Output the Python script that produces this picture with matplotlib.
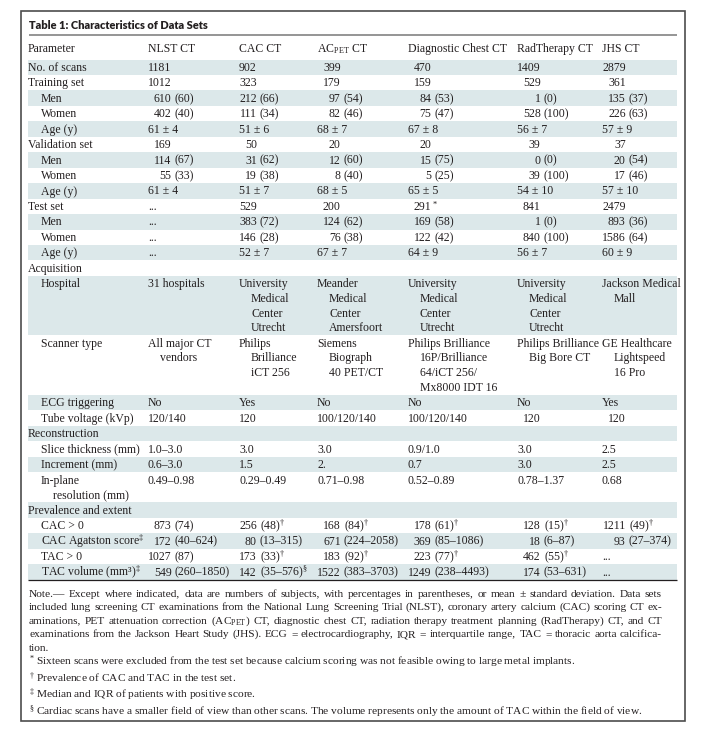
import re
import matplotlib
matplotlib.use("Agg")
import matplotlib.pyplot as plt
from matplotlib.patches import Rectangle

plt.rcParams['font.family'] = ['Liberation Serif', 'DejaVu Serif']
plt.rcParams['mathtext.fontset'] = 'custom'
plt.rcParams['mathtext.rm'] = 'Liberation Serif'
plt.rcParams['mathtext.it'] = 'Liberation Serif:italic'
plt.rcParams['mathtext.bf'] = 'Liberation Serif:bold'

DAG = "$^{\\dagger}$"
DDAG = "$^{\\ddagger}$"
SEC = "$^{\\S}$"
AST = "$^{*}$"

# ---------------- data ----------------
title = "Table 1: Characteristics of Data Sets"
columns = ["Parameter", "NLST CT", "CAC CT", "AC$_{\\mathrm{PET}}$ CT",
           "Diagnostic Chest CT", "RadTherapy CT", "JHS CT"]

row_labels = ["No. of scans", "Training set", "Men", "Women", "Age (y)",
              "Validation set", "Men", "Women", "Age (y)",
              "Test set", "Men", "Women", "Age (y)",
              "Acquisition", "Hospital", "Scanner type", "ECG triggering",
              "Tube voltage (kVp)", "Reconstruction", "Slice thickness (mm)",
              "Increment (mm)", "In-plane\nresolution (mm)",
              "Prevalence and extent", "CAC > 0", "CAC Agatston score" + DDAG,
              "TAC > 0", "TAC volume (mm³)" + DDAG]
row_is_sub = [False, False, True, True, True,
              False, True, True, True,
              False, True, True, True,
              False, True, True, True,
              True, False, True,
              True, True,
              False, True, True,
              True, True]

nlst = ["1181", "1012", "610 (60)", "402 (40)", "61 ± 4",
        "169", "114 (67)", "55 (33)", "61 ± 4",
        "...", "...", "...", "...",
        "", "31 hospitals", "All major CT\nvendors", "No",
        "120/140", "", "1.0–3.0", "0.6–3.0", "0.49–0.98",
        "", "873 (74)", "172 (40–624)", "1027 (87)", "549 (260–1850)"]
cac = ["902", "323", "212 (66)", "111 (34)", "51 ± 6",
       "50", "31 (62)", "19 (38)", "51 ± 7",
       "529", "383 (72)", "146 (28)", "52 ± 7",
       "", "University\nMedical\nCenter\nUtrecht", "Philips\nBrilliance\niCT 256", "Yes",
       "120", "", "3.0", "1.5", "0.29–0.49",
       "", "256 (48)" + DAG, "80 (13–315)", "173 (33)" + DAG, "142 (35–576)" + SEC]
acpet = ["399", "179", "97 (54)", "82 (46)", "68 ± 7",
         "20", "12 (60)", "8 (40)", "68 ± 5",
         "200", "124 (62)", "76 (38)", "67 ± 7",
         "", "Meander\nMedical\nCenter\nAmersfoort", "Siemens\nBiograph\n40 PET/CT", "No",
         "100/120/140", "", "3.0", "2.", "0.71–0.98",
         "", "168 (84)" + DAG, "671 (224–2058)", "183 (92)" + DAG, "1522 (383–3703)"]
diag = ["470", "159", "84 (53)", "75 (47)", "67 ± 8",
        "20", "15 (75)", "5 (25)", "65 ± 5",
        "291" + AST, "169 (58)", "122 (42)", "64 ± 9",
        "", "University\nMedical\nCenter\nUtrecht",
        "Philips Brilliance\n16P/Brilliance\n64/iCT 256/\nMx8000 IDT 16", "No",
        "100/120/140", "", "0.9/1.0", "0.7", "0.52–0.89",
        "", "178 (61)" + DAG, "369 (85–1086)", "223 (77)" + DAG, "1249 (238–4493)"]
radther = ["1409", "529", "1 (0)", "528 (100)", "56 ± 7",
           "39", "0 (0)", "39 (100)", "54 ± 10",
           "841", "1 (0)", "840 (100)", "56 ± 7",
           "", "University\nMedical\nCenter\nUtrecht", "Philips Brilliance\nBig Bore CT", "No",
           "120", "", "3.0", "3.0", "0.78–1.37",
           "", "128 (15)" + DAG, "18 (6–87)", "462 (55)" + DAG, "174 (53–631)"]
jhs = ["2879", "361", "135 (37)", "226 (63)", "57 ± 9",
       "37", "20 (54)", "17 (46)", "57 ± 10",
       "2479", "893 (36)", "1586 (64)", "60 ± 9",
       "", "Jackson Medical\nMall", "GE Healthcare\nLightspeed\n16 Pro", "Yes",
       "120", "", "2.5", "2.5", "0.68",
       "", "1211 (49)" + DAG, "93 (27–374)", "...", "..."]

note_lines = [
    "Note.— Except where indicated, data are numbers of subjects, with percentages in parentheses, or mean ± standard deviation. Data sets",
    "included lung screening CT examinations from the National Lung Screening Trial (NLST), coronary artery calcium (CAC) scoring CT ex-",
    "aminations, PET attenuation correction (AC$_{\\mathrm{PET}}$) CT, diagnostic chest CT, radiation therapy treatment planning (RadTherapy) CT, and CT",
    "examinations from the Jackson Heart Study (JHS). ECG = electrocardiography, IQR = interquartile range, TAC = thoracic aorta calcifica-",
    "tion.",
]
footnotes = [
    AST + " Sixteen scans were excluded from the test set because calcium scoring was not feasible owing to large metal implants.",
    DAG + " Prevalence of CAC and TAC in the test set.",
    DDAG + " Median and IQR of patients with positive score.",
    SEC + " Cardiac scans have a smaller field of view than other scans. The volume represents only the amount of TAC within the field of view.",
]

# ---------------- layout ----------------
W, H = 709, 733
TXT = '#231f20'
SHADE = '#dce8ea'
FS = 8.45
NFS = 8.2
col_x = [28, 148, 239, 317, 408, 517, 602]
SUB_X = 41
HANG = 12
LEFT, RIGHT = 28, 677
ROW_H = 15.45
LINE_H = 14.7
BASE = 3.6

fig = plt.figure(figsize=(W / 100, H / 100), dpi=100)
ax = fig.add_axes([0, 0, 1, 1])
ax.set_xlim(0, W)
ax.set_ylim(H, 0)
ax.axis('off')
renderer = fig.canvas.get_renderer()


def twidth(s, fs=FS, **kw):
    t = ax.text(0, 0, s, fontsize=fs, **kw)
    w = t.get_window_extent(renderer).width
    t.remove()
    return w


def put(x, y, s, fs=FS, ha='left', **kw):
    return ax.text(x, y + BASE, s, fontsize=fs, ha=ha, va='baseline', color=TXT, **kw)


# outer border
ax.add_patch(Rectangle((21, 11), 664, 710, fill=False, ec='#4d4d4d', lw=1.2))

# title
tw = twidth(title, fs=10, family='Lato', weight='heavy')
ax.text(29, 25 + 3.6, title, fontsize=10 * 179 / tw, family='Lato', weight='heavy',
        color=TXT, va='baseline', ha='left')
ax.plot([29, RIGHT], [34.7, 34.7], color='#8c8c8c', lw=1.3, solid_capstyle='butt')

# header
for cx, name in zip(col_x, columns):
    put(cx, 48.3, name)

data_cols = [nlst, cac, acpet, diag, radther, jhs]


def split_fig(s):
    if '\n' in s:
        return None
    m = re.match(r'^(\d+)(.*)$', s)
    if m:
        rest = m.group(2)
        if rest == '' or rest.startswith(' (') or rest.startswith('$'):
            return m.group(1), rest
    return None


space_w = FS * 100 / 72 * 0.25
anchors = []
for vals, cx in zip(data_cols, col_x[1:]):
    leads = [split_fig(v)[0] for v in vals if split_fig(v)]
    anchors.append(cx + max(twidth(l) for l in leads))

# rows
y = 67.3
for i, label in enumerate(row_labels):
    cells = [c[i] for c in data_cols]
    nlines = max([len(label.split('\n'))] + [len(c.split('\n')) for c in cells])
    top = y - ROW_H / 2
    bot = y + (nlines - 1) * LINE_H + ROW_H / 2
    if i % 2 == 0:
        ax.add_patch(Rectangle((LEFT, top), RIGHT - LEFT, bot - top, fc=SHADE, ec='none', zorder=0))
    lx = SUB_X if row_is_sub[i] else col_x[0]
    for k, part in enumerate(label.split('\n')):
        put(lx + (HANG if k else 0), y + k * LINE_H, part)
    for j, cell in enumerate(cells):
        if not cell:
            continue
        sp = split_fig(cell)
        if sp:
            lead, rest = sp
            put(anchors[j], y, lead, ha='right')
            if rest.startswith(' ('):
                put(anchors[j] + space_w, y, rest[1:])
            elif rest:
                put(anchors[j], y, rest)
        else:
            for k, part in enumerate(cell.split('\n')):
                put(col_x[j + 1] + (HANG if k else 0), y + k * LINE_H, part)
    y += ROW_H + (nlines - 1) * LINE_H

ax.plot([LEFT, RIGHT], [580, 580], color=TXT, lw=0.9, solid_capstyle='butt')

# notes (justified)
NX0, NX1 = 29, 662
note_y = [593, 606.5, 620, 633.5, 647]
for k, (line, ny) in enumerate(zip(note_lines, note_y)):
    if k == len(note_lines) - 1:
        put(NX0, ny, line, fs=NFS)
        continue
    words = line.split(' ')
    ts = [put(0, ny, w_, fs=NFS) for w_ in words]
    ws = [t.get_window_extent(renderer).width for t in ts]
    gap = (NX1 - NX0 - sum(ws)) / (len(words) - 1)
    xx = NX0
    for t, w_ in zip(ts, ws):
        t.set_x(xx)
        xx += w_ + gap

foot_y = [661, 678, 694.5, 711]
for line, fy in zip(footnotes, foot_y):
    put(NX0, fy, line, fs=NFS)

fig.savefig('out.png', dpi=100)
